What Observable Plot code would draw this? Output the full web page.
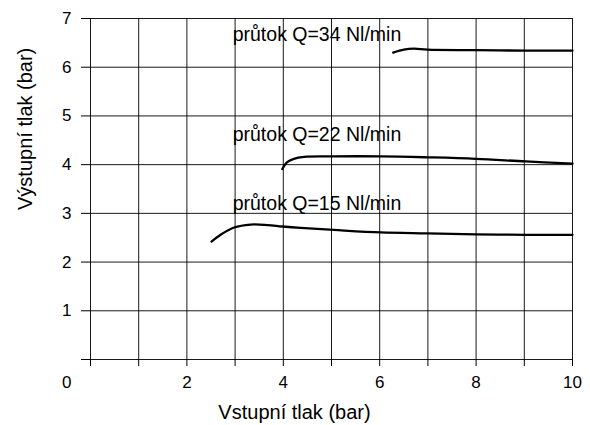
<!DOCTYPE html>
<html>
<head>
<meta charset="utf-8">
<script src="https://cdn.jsdelivr.net/npm/d3@7"></script>
<script src="https://cdn.jsdelivr.net/npm/@observablehq/plot@0.6"></script>
<style>
  body { margin: 0; background: #fff; }
  svg { font-family: "Liberation Sans", Arial, sans-serif; }
</style>
</head>
<body>
<div id="chart"></div>
<script>
// Tick values
const xTicks = [0, 1, 2, 3, 4, 5, 6, 7, 8, 9, 10];
const xLabelTicks = [2, 4, 6, 8, 10];
const yTicks = [0, 1, 2, 3, 4, 5, 6, 7];

// Series: průtok Q=15 Nl/min
const q15X = [2.51, 2.70, 2.98, 3.32, 3.67, 3.98, 4.36, 5.05, 6.02, 6.99, 7.99, 9.03, 10];
const q15Y = [2.42, 2.56, 2.71, 2.77, 2.76, 2.73, 2.70, 2.66, 2.61, 2.59, 2.57, 2.56, 2.56];
// Series: průtok Q=22 Nl/min
const q22X = [3.98, 4.08, 4.22, 4.43, 5.02, 6.02, 6.99, 7.99, 9.03, 10];
const q22Y = [3.91, 4.05, 4.12, 4.16, 4.17, 4.17, 4.15, 4.12, 4.065, 4.02];
// Series: průtok Q=34 Nl/min
const q34X = [6.28, 6.50, 6.71, 6.99, 7.99, 9.03, 10];
const q34Y = [6.30, 6.36, 6.38, 6.36, 6.35, 6.34, 6.34];

// Curve labels
const labelText = ["průtok Q=34 Nl/min", "průtok Q=22 Nl/min", "průtok Q=15 Nl/min"];
const labelX = [2.95, 2.95, 2.95];
const labelY = [6.66, 4.61, 3.2];

const xTitle = "Vstupní tlak (bar)";
const yTitle = "Výstupní tlak (bar)";

const series = [
  ...q15X.map((x, i) => ({x, y: q15Y[i], s: "15"})),
  ...q22X.map((x, i) => ({x, y: q22Y[i], s: "22"})),
  ...q34X.map((x, i) => ({x, y: q34Y[i], s: "34"}))
];
const labels = labelText.map((t, i) => ({t, x: labelX[i], y: labelY[i]}));

const chart = Plot.plot({
  width: 590,
  height: 425,
  marginLeft: 90,
  marginRight: 18,
  marginTop: 18,
  marginBottom: 66,
  x: {domain: [0, 10]},
  y: {domain: [0, 7]},
  style: {fontFamily: '"Liberation Sans", Arial, sans-serif', fontSize: "17px", color: "#000", background: "#fff"},
  marks: [
    Plot.ruleX(xTicks, {stroke: "#000", strokeWidth: 1, strokeOpacity: 0.9}),
    Plot.ruleY(yTicks, {stroke: "#000", strokeWidth: 1, strokeOpacity: 0.9}),
    Plot.axisX(xTicks, {tickSize: 7, tickPadding: 9, fontSize: 17, label: null,
      tickFormat: d => xLabelTicks.includes(d) ? String(d) : ""}),
    Plot.axisY(yTicks, {tickSize: 9, tickPadding: 10, fontSize: 17, label: null,
      tickFormat: d => d === 0 ? "" : String(d)}),
    Plot.axisY([0], {tickSize: 0, tickPadding: 19, dy: 23, fontSize: 17, label: null}),
    Plot.line(series, {x: "x", y: "y", z: "s", stroke: "#000", strokeWidth: 2.3, curve: "catmull-rom"}),
    Plot.text(labels, {x: "x", y: "y", text: "t", textAnchor: "start", fontSize: 19.5, fill: "#000", ariaLabel: "flow-labels"}),
    Plot.text([xTitle], {frameAnchor: "bottom", dy: 59, dx: -37, fontSize: 20, fill: "#000"}),
    Plot.text([yTitle], {frameAnchor: "left", rotate: -90, dx: -65, dy: 21, fontSize: 20, fill: "#000"})
  ]
});

document.getElementById("chart").append(chart);

// white boxes behind the curve labels
const g = chart.querySelector('g[aria-label="flow-labels"]');
if (g) {
  g.querySelectorAll("text").forEach(t => {
    const b = t.getBBox();
    const r = document.createElementNS("http://www.w3.org/2000/svg", "rect");
    r.setAttribute("x", b.x - 5);
    r.setAttribute("y", b.y);
    r.setAttribute("width", b.width);
    r.setAttribute("height", b.height);
    r.setAttribute("fill", "#fff");
    const tr = t.getAttribute("transform");
    if (tr) r.setAttribute("transform", tr);
    t.parentNode.insertBefore(r, t);
  });
}
</script>
</body>
</html>
